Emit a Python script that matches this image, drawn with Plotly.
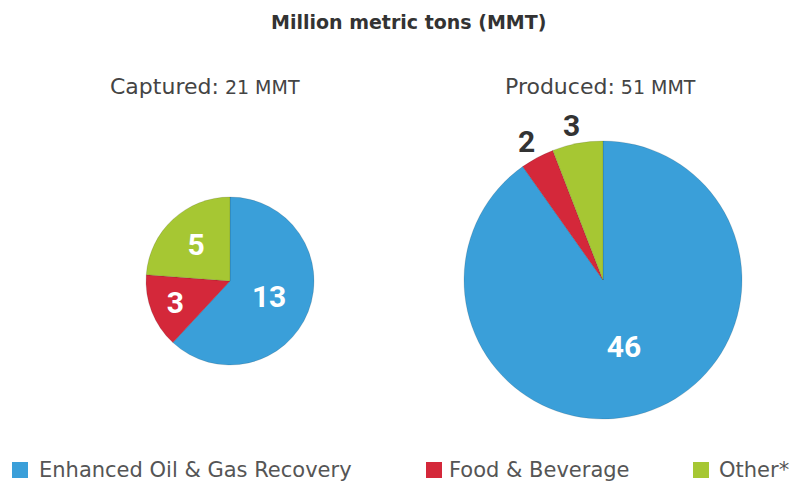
import math
import plotly.graph_objects as go

# Categories and values (million metric tons)
categories = ["Enhanced Oil & Gas Recovery", "Food & Beverage", "Other*"]
captured = [13, 3, 5]
produced = [46, 2, 3]
colors = ["#3a9fd9", "#d4283a", "#a6c733"]

W, H = 793, 487

def dom_x(x0, x1):
    return [x0 / W, x1 / W]

def dom_y(top, bottom):
    return [1 - bottom / H, 1 - top / H]

num_font = "Roboto, sans-serif"
txt_font = "DejaVu Sans, sans-serif"

fig = go.Figure()

fig.add_trace(go.Pie(
    labels=categories, values=captured, sort=False, direction="clockwise",
    rotation=0, marker=dict(colors=colors, line=dict(color="rgba(0,0,0,0.12)", width=1)),
    textinfo="value", textposition="inside", insidetextorientation="horizontal",
    textfont=dict(family=num_font, size=30, color="white", weight="bold"),
    domain=dict(x=dom_x(146, 314), y=dom_y(197, 365)),
    showlegend=False, hoverinfo="label+value",
))

# Right pie: the large slice is labelled inside, the thin slices get labels
# just beyond the rim at their mid-angles (added as annotations below).
right_x = (464, 742)
right_y = (141, 419)
fig.add_trace(go.Pie(
    labels=categories, values=produced, sort=False, direction="clockwise",
    rotation=0, marker=dict(colors=colors, line=dict(color="rgba(0,0,0,0.12)", width=1)),
    texttemplate=["%{value}", "", ""], textposition="inside",
    insidetextorientation="horizontal",
    insidetextfont=dict(family=num_font, size=30, color="white", weight="bold"),
    domain=dict(x=dom_x(*right_x), y=dom_y(*right_y)),
    showlegend=False, hoverinfo="label+value",
))

annotations = [
    dict(text="<b>Million metric tons (MMT)</b>", x=408 / W, y=1 - 22 / H,
         font=dict(family=txt_font, size=19, color="#333333")),
    dict(text="Captured:<span style='font-size:19px'> %d MMT</span>" % sum(captured),
         x=205 / W, y=1 - 86 / H,
         font=dict(family=txt_font, size=22, color="#444444")),
    dict(text="Produced:<span style='font-size:19px'> %d MMT</span>" % sum(produced),
         x=600 / W, y=1 - 86 / H,
         font=dict(family=txt_font, size=22, color="#444444")),
]

# Outside labels for the small slices of the right pie
cx = (right_x[0] + right_x[1]) / 2
cy = (right_y[0] + right_y[1]) / 2
r = (right_x[1] - right_x[0]) / 2
total = sum(produced)
start = 0.0
for i, v in enumerate(produced):
    span = 360.0 * v / total
    mid = math.radians(start + span / 2)
    start += span
    if i == 0:
        continue
    lr = r + 19
    px = cx + lr * math.sin(mid) - 2
    py = cy - lr * math.cos(mid) + 1
    annotations.append(dict(text="<b>%d</b>" % v, x=px / W, y=1 - py / H,
                            font=dict(family=num_font, size=30, color="#333333")))

for a in annotations:
    a.update(xref="paper", yref="paper", showarrow=False, xanchor="center", yanchor="middle")

# Legend drawn as swatches with labels
shapes = []
legend_sq = [12, 426, 693]
legend_tx = [37, 447, 717]
for cat, col, sx, tx in zip(categories, colors, legend_sq, legend_tx):
    shapes.append(dict(type="rect", xref="paper", yref="paper",
                       x0=sx / W, x1=(sx + 16) / W, y0=1 - 478 / H, y1=1 - 462 / H,
                       fillcolor=col, line=dict(width=0)))
    annotations.append(dict(text=cat, xref="paper", yref="paper", showarrow=False,
                            x=tx / W, y=1 - 470 / H, xanchor="left", yanchor="middle",
                            font=dict(family=txt_font, size=21, color="#555555")))

fig.update_layout(
    width=W, height=H, margin=dict(l=0, r=0, t=0, b=0),
    paper_bgcolor="white", plot_bgcolor="white",
    annotations=annotations, shapes=shapes,
)

fig.write_html("out.html")
